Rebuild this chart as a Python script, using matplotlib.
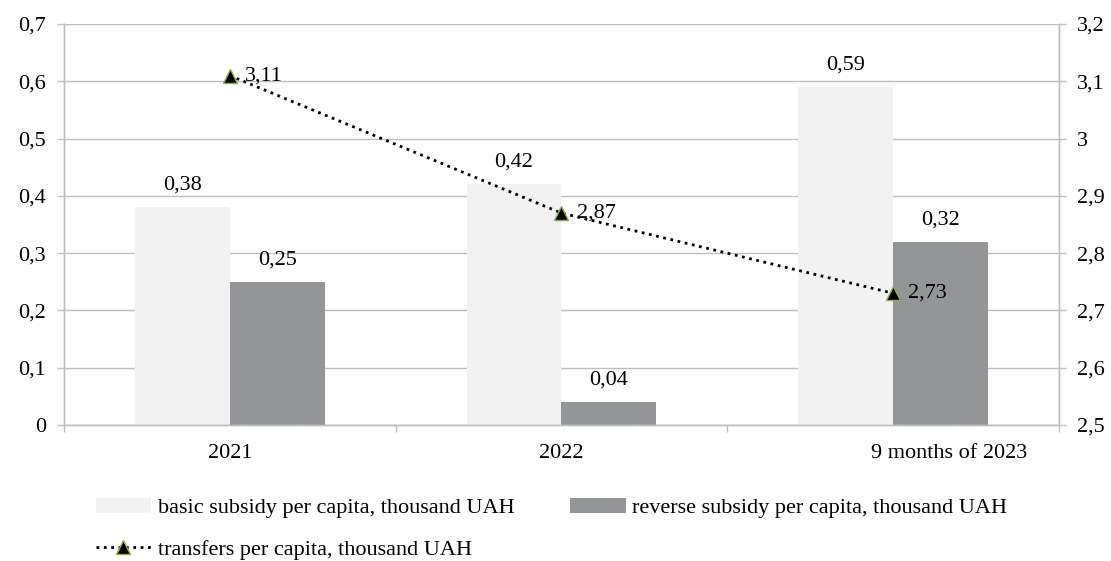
import matplotlib.pyplot as plt
import matplotlib.transforms as mtransforms
from matplotlib.ticker import FuncFormatter
import numpy as np

plt.rcParams['font.family'] = ['Liberation Serif', 'DejaVu Serif']
plt.rcParams['font.size'] = 16

# %% data
periods = ['2021', '2022', '9 months of 2023']
basic = [0.38, 0.42, 0.59]
reverse = [0.25, 0.04, 0.32]
transfers = [3.11, 2.87, 2.73]
basic_name = 'basic subsidy per capita, thousand UAH'
reverse_name = 'reverse subsidy per capita, thousand UAH'
transfers_name = 'transfers per capita, thousand UAH'

grey = '#bfbfbf'
fmt = FuncFormatter(lambda v, pos: ('%g' % round(v, 2)).replace('.', ','))

fig = plt.figure(figsize=(11.11, 5.61), dpi=100)
ax = fig.add_axes([0.0576, 0.2424, 0.8954, 0.7148])
ax2 = ax.twinx()

x = np.arange(len(periods))
w = 0.286
b1 = ax.bar(x - w / 2, basic, w, color='#f2f2f3', zorder=2)
b2 = ax.bar(x + w / 2, reverse, w, color='#939598', zorder=2)
for bars, vals in ((b1, basic), (b2, reverse)):
    for r, v in zip(bars, vals):
        ax.annotate(fmt(v), (r.get_x() + r.get_width() / 2, v),
                    xytext=(0, 9), textcoords='offset points',
                    ha='center', va='bottom')

ln, = ax2.plot(x, transfers, color='black', linestyle=':', linewidth=2,
               marker='^', markersize=10, markerfacecolor='black',
               markeredgecolor='#8cb43c', markeredgewidth=1, zorder=3)
for xi, v in zip(x, transfers):
    ax2.annotate(fmt(v), (xi, v), xytext=(11, 0), textcoords='offset points',
                 ha='left', va='center')

# %% axes
ax.set_xlim(-0.5, 2.5)
ax.set_ylim(0, 0.7)
ax.set_yticks(np.arange(0, 0.71, 0.1))
ax.yaxis.set_major_formatter(fmt)
ax2.set_ylim(2.5, 3.2)
ax2.set_yticks(np.arange(2.5, 3.21, 0.1))
ax2.yaxis.set_major_formatter(fmt)

ax.set_xticks([-0.5, 0.5, 1.5, 2.5])
ax.set_xticklabels([])
ax.set_xticks(x, minor=True)
ax.set_xticklabels(periods, minor=True)
ax.tick_params(axis='x', which='major', length=5, color=grey, width=1)
ax.tick_params(axis='x', which='minor', length=0, pad=14)
ax.tick_params(axis='y', length=5, color=grey, width=1, pad=8)
ax2.tick_params(axis='y', length=5, color=grey, width=1, pad=8)

# shift the long last label to the right as in the original
lbl = ax.get_xticklabels(minor=True)[2]
lbl.set_transform(lbl.get_transform() +
                  mtransforms.ScaledTranslation(0.56, 0, fig.dpi_scale_trans))

ax.grid(axis='y', color=grey, linewidth=1)
ax.set_axisbelow(True)
for a in (ax, ax2):
    a.spines['top'].set_visible(False)
    for s in ('left', 'right', 'bottom'):
        a.spines[s].set_color(grey)
        a.spines[s].set_linewidth(1)

fig.legend([b1, ln, b2], [basic_name, transfers_name, reverse_name],
           ncol=2, loc='upper left', bbox_to_anchor=(0.086, 0.113),
           frameon=False, handlelength=2.5, handletextpad=0.3,
           columnspacing=2.5, labelspacing=0.95, borderaxespad=0,
           borderpad=0)

fig.savefig('out.png', dpi=100)
